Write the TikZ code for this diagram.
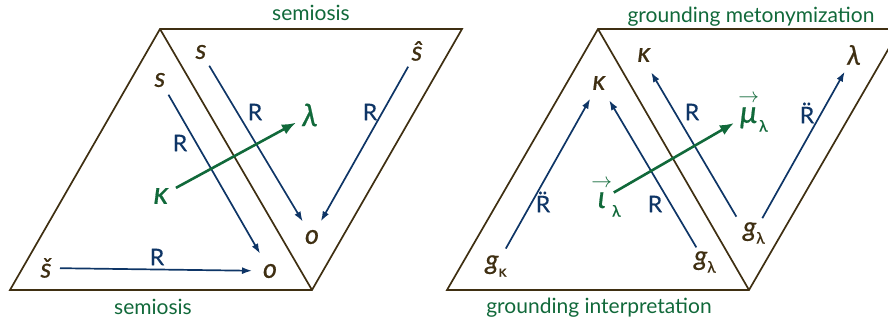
\documentclass[tikz,border=0pt]{standalone}
\usepackage{fontspec}
\usepackage{amsmath}
\setmainfont{Lato}
\usetikzlibrary{arrows.meta}
\definecolor{brn}{HTML}{3F2F12}
\definecolor{grn}{HTML}{11693A}
\definecolor{nvy}{HTML}{0E3566}
\newcommand{\lsub}[1]{\raisebox{-0.28em}{\fontsize{16}{16}\selectfont\upshape #1}}
\newcommand{\arrowed}[1]{$\overset{\rightarrow}{\text{#1}}$}
\tikzset{
 frame/.style={draw=brn, line width=1.7pt, line join=miter},
 var/.style={text=brn, font=\fontsize{27}{30}\selectfont\itshape\addfontfeature{FakeBold=0.6}, inner sep=0pt},
 gvar/.style={text=grn, font=\fontsize{31}{36}\selectfont\itshape\addfontfeature{FakeBold=0.6}, inner sep=0pt},
 rel/.style={text=nvy, font=\fontsize{23}{26}\selectfont\addfontfeature{FakeBold=0.3}, inner sep=0pt},
 capt/.style={text=grn, font=\fontsize{21}{25}\selectfont, inner sep=0pt},
 rarr/.style={draw=nvy, line width=1.7pt, -{Latex[length=10pt,width=7pt]}},
 garr/.style={draw=grn, line width=2.6pt, -{Latex[length=14pt,width=11pt]}},
}
\begin{document}
\begin{tikzpicture}[x=1pt,y=-1pt]
\useasboundingbox (0,0) rectangle (888,327);
\begin{scope}
\clip (0,0) rectangle (888,327);
\draw[frame] (10,290) -- (312,290) -- (462,29) -- (160,29) -- cycle (160,29) -- (312,290);
\draw[frame] (447,290) -- (749,290) -- (900,29) -- (598,29) -- cycle (598,29) -- (749,290);
\end{scope}
% captions
\node[capt] (c1) at (311,13) {semiosis};
\node[capt] (c2) at (153,307) {semiosis};
\node[capt] (c3) at (751,16.5) {grounding metonymization};
\node[capt] (c4) at (599,308) {grounding interpretation};
% left figure
\node[var] (s1) at (160,80) {s};
\node[var] (s2) at (201,52) {s};
\node[var] (sh) at (417,51) {ŝ};
\node[var] (o1) at (270,271) {o};
\node[var] (o2) at (312,237) {o};
\node[var] (sc) at (46,268) {š};
\node[gvar] (kL) at (161,196) {κ};
\node[gvar] (lL) at (310,115) {λ};
\node[rel] (r1) at (180,143) {R};
\node[rel] (r2) at (255,112) {R};
\node[rel] (r3) at (370,112) {R};
\node[rel] (r4) at (157,257) {R};
\draw[rarr, shorten <=17pt, shorten >=20pt] (s1.center) -- (o1.center);
\draw[rarr, shorten <=16pt, shorten >=18pt] (s2.center) -- (o2.center);
\draw[rarr, shorten <=18pt, shorten >=18pt] (sh.center) -- (o2.center);
\draw[rarr, shorten <=14pt, shorten >=18pt] (sc.center) -- (o1.center);
\draw[garr, shorten <=17pt, shorten >=16pt] (kL.center) -- (lL.center);
% right figure
\node[var] (k1) at (599,83) {κ};
\node[var] (k2) at (644,55) {κ};
\node[var] (lR) at (854,55) {λ};
\node[var] (gk) at (496,266) {g\lsub{κ}};
\node[var] (gl1) at (705,262) {g\lsub{λ}};
\node[var] (gl2) at (754,233) {g\lsub{λ}};
\node[gvar] (io) at (606,197) {\arrowed{ι}\lsub{λ}};
\node[gvar] (mu) at (753,112) {\arrowed{μ}\lsub{λ}};
\node[rel] (q1) at (543,202) {\"R};
\node[rel] (q2) at (655,204) {R};
\node[rel] (q3) at (692,112) {R};
\node[rel] (q4) at (807,113) {\"R};
\draw[rarr, shorten <=20pt, shorten >=18pt] (gk.center) -- (k1.center);
\draw[rarr, shorten <=17pt, shorten >=20pt] (gl1.center) -- (k1.center);
\draw[rarr, shorten <=19pt, shorten >=20pt] ([xshift=-8pt]gl2.center) -- ([xshift=-3pt]k2.center);
\draw[rarr, shorten <=17pt, shorten >=19pt] (gl2.center) -- (lR.center);
\draw[garr, shorten <=9pt, shorten >=22pt] (io.center) -- (mu.center);
\end{tikzpicture}
\end{document}
